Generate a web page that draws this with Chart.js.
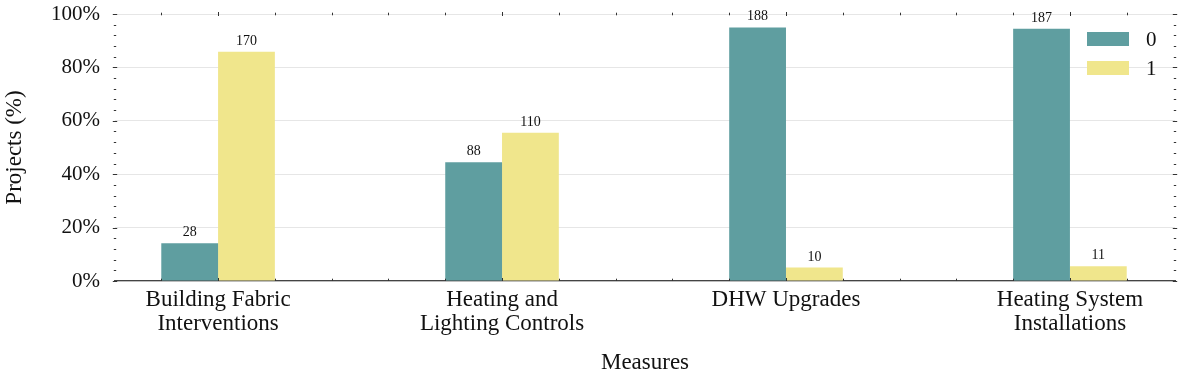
<!DOCTYPE html>
<html>
<head>
<meta charset="utf-8">
<script src="https://cdn.jsdelivr.net/npm/chart.js@4"></script>
<style>
    body { margin: 0; background: #ffffff; }
    #wrap { width: 1180px; height: 380px; }
</style>
</head>
<body>
<div id="wrap"><canvas id="graf" width="1180" height="380"></canvas></div>
<script>
// data
var kategorie = [
    ["Building Fabric", "Interventions"],
    ["Heating and", "Lighting Controls"],
    "DHW Upgrades",
    ["Heating System", "Installations"]
];
var pocty0 = [28, 88, 188, 187];
var pocty1 = [170, 110, 10, 11];
var nazvySerii = ["0", "1"];
var farby = ["#5F9EA0", "#F0E68C"];
var yTicky = [0, 20, 40, 60, 80, 100];

const PISMO = "'Liberation Serif', 'Times New Roman', serif";
const TMAVA = "#333333";

// percenta z poctov
function percenta(a, b) {
    var vysledok = [];
    for (var i = 0; i < a.length; i++) {
        vysledok.push({x: i, y: a[i] / (a[i] + b[i]) * 100});
    }
    return vysledok;
}

// cisla nad stlpcami
var popisky = {
    id: "popisky",
    afterDatasetsDraw: function (chart) {
        var ctx = chart.ctx;
        var pocty = [pocty0, pocty1];
        ctx.save();
        ctx.font = "14px " + PISMO;
        ctx.fillStyle = "#111111";
        ctx.textAlign = "center";
        ctx.textBaseline = "alphabetic";
        chart.data.datasets.forEach(function (ds, d) {
            chart.getDatasetMeta(d).data.forEach(function (el, i) {
                ctx.fillText(String(pocty[d][i]), el.x, el.y - 7);
            });
        });
        ctx.restore();
    }
};

// male ciarky na vsetkych stranach
var ciarky = {
    id: "ciarky",
    afterDraw: function (chart) {
        var ctx = chart.ctx;
        var a = chart.chartArea;
        var x = chart.scales.x;
        var y = chart.scales.y;
        ctx.save();
        ctx.strokeStyle = TMAVA;
        ctx.lineWidth = 1;
        ctx.beginPath();
        for (var v = -0.2; v <= 3.21; v += 0.2) {
            var r = Math.round(v * 10) / 10;
            var px = Math.round(x.getPixelForValue(r)) + 0.5;
            var d = (Math.abs(r - Math.round(r)) < 0.01) ? 2 : 1.3;
            ctx.moveTo(px, a.top - d);
            ctx.lineTo(px, a.top + d);
            ctx.moveTo(px, a.bottom - d - 1);
            ctx.lineTo(px, a.bottom);
        }
        for (var w = 0; w <= 100; w += 4) {
            var py = Math.round(y.getPixelForValue(w)) + 0.5;
            var l = (w % 20 === 0) ? 2.2 : 1.2;
            ctx.moveTo(a.left - l, py);
            ctx.lineTo(a.left + l, py);
            ctx.moveTo(a.right - l, py);
            ctx.lineTo(a.right + l, py);
        }
        ctx.stroke();

        // legenda
        ctx.font = "21px " + PISMO;
        ctx.textAlign = "left";
        ctx.textBaseline = "middle";
        chart.data.datasets.forEach(function (ds, i) {
            var top = a.top + 18 + i * 29;
            ctx.fillStyle = ds.backgroundColor;
            ctx.fillRect(a.right - 88, top, 42, 14);
            ctx.fillStyle = "#111111";
            ctx.fillText(ds.label, a.right - 29, top + 8);
        });
        ctx.restore();
    }
};

var graf = new Chart(document.getElementById("graf"), {
    type: "bar",
    data: {
        datasets: [{
            label: nazvySerii[0],
            data: percenta(pocty0, pocty1),
            backgroundColor: farby[0]
        }, {
            label: nazvySerii[1],
            data: percenta(pocty1, pocty0),
            backgroundColor: farby[1]
        }]
    },
    options: {
        responsive: false,
        animation: false,
        devicePixelRatio: 1,
        categoryPercentage: 0.4,
        barPercentage: 1.0,
        layout: {padding: {top: 14, right: 5, left: 0, bottom: 0}},
        plugins: {
            legend: {display: false},
            tooltip: {enabled: false}
        },
        scales: {
            x: {
                type: "linear",
                min: -0.363,
                max: 3.37,
                offset: false,
                afterBuildTicks: function (scale) {
                    scale.ticks = kategorie.map(function (k, i) { return {value: i}; });
                },
                afterFit: function (scale) {
                    scale.height = 99;
                    scale.paddingLeft = 0;
                    scale.paddingRight = 0;
                },
                grid: {display: false, drawTicks: false},
                border: {display: true, color: "#444444", width: 1.3},
                ticks: {
                    padding: 7,
                    color: "#111111",
                    maxRotation: 0,
                    autoSkip: false,
                    font: {family: PISMO, size: 23, lineHeight: 1.04},
                    callback: function (v) { return kategorie[v]; }
                },
                title: {
                    display: true,
                    text: "Measures",
                    color: "#111111",
                    padding: {top: 0, bottom: 3},
                    font: {family: PISMO, size: 23}
                }
            },
            y: {
                min: 0,
                max: 100,
                z: 1,
                afterBuildTicks: function (scale) {
                    scale.ticks = yTicky.map(function (v) { return {value: v}; });
                },
                afterFit: function (scale) {
                    scale.width = 115;
                    scale.paddingTop = 0;
                    scale.paddingBottom = 0;
                },
                grid: {color: "rgba(200,200,200,0.45)", lineWidth: 1, drawTicks: false},
                border: {display: false},
                ticks: {
                    padding: 15,
                    color: "#111111",
                    font: {family: PISMO, size: 21},
                    callback: function (v) { return v + "%"; }
                },
                title: {
                    display: true,
                    text: "Projects (%)",
                    color: "#111111",
                    padding: {top: 1, bottom: 0},
                    font: {family: PISMO, size: 23}
                }
            }
        }
    },
    plugins: [popisky, ciarky]
});
</script>
</body>
</html>
